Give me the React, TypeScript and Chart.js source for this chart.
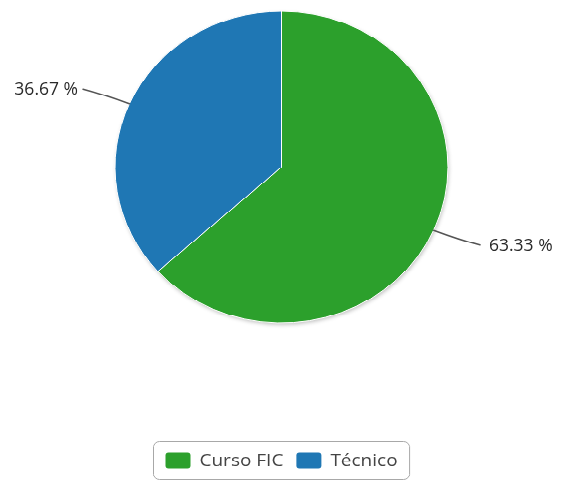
import React, { useEffect, useRef } from "react";
import { Chart, registerables } from "chart.js";

Chart.register(...registerables);

const categories = ["Curso FIC", "Técnico"];
const percentages = [63.33, 36.67];
const percentLabels = ["63.33 %", "36.67 %"];
const colors = ["#2ca02c", "#1f77b4"];

const W = 567;
const H = 516;
const SCALE_Y = 483 / H;
const FONT = '"Open Sans", "DejaVu Sans", sans-serif';

const shadowPlugin = {
  id: "pieShadow",
  beforeDatasetsDraw(chart: any) {
    const meta = chart.getDatasetMeta(0);
    const arc = meta.data[0];
    if (!arc) return;
    const { x, y, outerRadius } = arc.getProps(["x", "y", "outerRadius"], true);
    const ctx = chart.ctx;
    ctx.save();
    ctx.shadowColor = "rgba(0,0,0,0.28)";
    ctx.shadowBlur = 4;
    ctx.shadowOffsetX = 1;
    ctx.shadowOffsetY = 2;
    ctx.fillStyle = "#ffffff";
    ctx.beginPath();
    ctx.arc(x, y, outerRadius - 0.5, 0, Math.PI * 2);
    ctx.fill();
    ctx.restore();
  },
};

const labelPlugin = {
  id: "pieLabels",
  afterDatasetsDraw(chart: any) {
    const meta = chart.getDatasetMeta(0);
    const ctx = chart.ctx;
    ctx.save();
    meta.data.forEach((arc: any, i: number) => {
      const { x, y, startAngle, endAngle, outerRadius } = arc.getProps(
        ["x", "y", "startAngle", "endAngle", "outerRadius"],
        true
      );
      const mid = (startAngle + endAngle) / 2;
      const c = Math.cos(mid);
      const s = Math.sin(mid);
      const px = x + c * outerRadius;
      const py = y + s * outerRadius;
      const right = c >= 0;
      const ex = x + (right ? 1 : -1) * (outerRadius + 32);
      const ey = py + ((s * (ex - px)) / c) * 0.75;
      ctx.strokeStyle = "#555555";
      ctx.lineWidth = 1.5;
      ctx.lineCap = "round";
      ctx.beginPath();
      ctx.moveTo(px, py);
      const mx = (px + ex) / 2;
      const my = (py + ey) / 2;
      ctx.quadraticCurveTo(mx + (right ? 4 : -4), my + (right ? 2.5 : -2.5), ex, ey);
      ctx.stroke();
      ctx.fillStyle = "#2a2a2a";
      ctx.font = `17.5px ${FONT}`;
      ctx.textBaseline = "middle";
      ctx.textAlign = right ? "left" : "right";
      ctx.fillText(percentLabels[i], right ? ex + 9 : ex - 5, ey + 1);
    });
    ctx.restore();
  },
};

function roundRect(ctx: CanvasRenderingContext2D, x: number, y: number, w: number, h: number, r: number) {
  ctx.beginPath();
  ctx.moveTo(x + r, y);
  ctx.lineTo(x + w - r, y);
  ctx.arcTo(x + w, y, x + w, y + r, r);
  ctx.lineTo(x + w, y + h - r);
  ctx.arcTo(x + w, y + h, x + w - r, y + h, r);
  ctx.lineTo(x + r, y + h);
  ctx.arcTo(x, y + h, x, y + h - r, r);
  ctx.lineTo(x, y + r);
  ctx.arcTo(x, y, x + r, y, r);
  ctx.closePath();
}

const legendPlugin = {
  id: "boxLegend",
  afterDraw(chart: any) {
    const ctx: CanvasRenderingContext2D = chart.ctx;
    ctx.save();
    ctx.font = `19px ${FONT}`;
    const symW = 25;
    const symH = 17;
    const symGap = 9;
    const itemGap = 13;
    const padX = 12;
    const widths = categories.map((c) => symW + symGap + ctx.measureText(c).width);
    const total = widths.reduce((a, b) => a + b, 0) + itemGap * (categories.length - 1) + padX * 2;
    const cx = 281;
    const boxX = Math.round(cx - total / 2) + 0.5;
    const boxY = 471.5;
    const boxH = 41;
    ctx.strokeStyle = "#a8a8a8";
    ctx.lineWidth = 1;
    roundRect(ctx, boxX, boxY, total, boxH, 6);
    ctx.stroke();
    let xx = boxX + padX;
    const cy = boxY + boxH / 2;
    categories.forEach((c, i) => {
      ctx.fillStyle = colors[i];
      roundRect(ctx, xx, cy - symH / 2, symW, symH, 3);
      ctx.fill();
      ctx.fillStyle = "#444444";
      ctx.textBaseline = "middle";
      ctx.textAlign = "left";
      ctx.fillText(c, xx + symW + symGap, cy + 1);
      xx += widths[i] + itemGap;
    });
    ctx.restore();
  },
};

export default function App() {
  const ref = useRef<HTMLCanvasElement | null>(null);
  useEffect(() => {
    if (!ref.current) return;
    const chart = new Chart(ref.current, {
      type: "pie",
      data: {
        labels: categories,
        datasets: [
          {
            data: percentages,
            backgroundColor: colors,
            borderColor: "#ffffff",
            borderWidth: 1,
            hoverOffset: 0,
          },
        ],
      },
      options: {
        responsive: false,
        animation: false,
        devicePixelRatio: 1,
        radius: 166.5,
        layout: { padding: { left: 115, right: 119, top: 12, bottom: 171 } },
        plugins: {
          legend: { display: false },
          tooltip: { enabled: false },
        },
      } as any,
      plugins: [shadowPlugin, labelPlugin, legendPlugin],
    });
    return () => chart.destroy();
  }, []);
  return (
    <div
      style={{
        position: "fixed",
        left: 0,
        top: 0,
        width: W,
        height: H,
        transform: `scaleY(${SCALE_Y})`,
        transformOrigin: "0 0",
        background: "#ffffff",
      }}
    >
      <canvas ref={ref} width={W} height={H} style={{ display: "block", width: W, height: H }} />
    </div>
  );
}
